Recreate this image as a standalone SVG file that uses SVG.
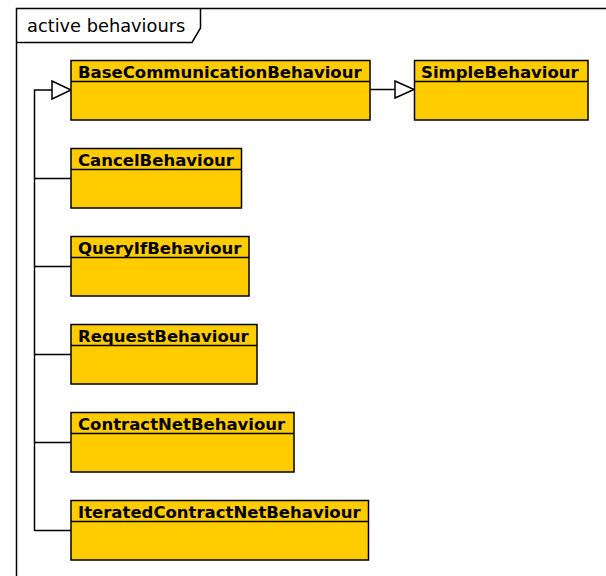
<svg xmlns="http://www.w3.org/2000/svg" width="606" height="576" viewBox="0 0 606 576">
<style>
.box{fill:#FFCC00;stroke:#000;stroke-width:1.5}
.div{stroke:#000;stroke-width:1.5}
.nm{font-family:"DejaVu Sans",sans-serif;font-weight:bold;font-size:16.5px;fill:#000}
.ln{fill:none;stroke:#000;stroke-width:1.5}
.tri{fill:#fff;stroke:#000;stroke-width:1.5}
</style>
<rect width="606" height="576" fill="#fff"/>
<g id="frame">
<path d="M16.5,580 L16.5,8.5 L610,8.5" fill="none" stroke="#000" stroke-width="1.5"/>
<path d="M16.5,42.5 L192,42.5 L200.5,28 L200.5,8.5" fill="none" stroke="#000" stroke-width="1.5"/>
<text x="27" y="32" font-family="DejaVu Sans,sans-serif" font-size="17.8" fill="#000">active behaviours</text>
</g>
<g id="connectors">
<path class="ln" d="M34.5,531 L34.5,90 L52,90"/>
<polygon class="tri" points="52,81 71,90 52,99"/>
<path class="ln" d="M370,89.5 L395,89.5"/>
<polygon class="tri" points="395,81 414,89.5 395,98"/>
<path class="ln" d="M34.5,178.5 L71,178.5"/>
<path class="ln" d="M34.5,266.5 L71,266.5"/>
<path class="ln" d="M34.5,354.5 L71,354.5"/>
<path class="ln" d="M34.5,442.5 L71,442.5"/>
<path class="ln" d="M34.5,530.5 L71,530.5"/>
</g>
<g id="BaseCommunicationBehaviour">
<rect class="box" x="71" y="60.5" width="299" height="59.5"/>
<line class="div" x1="71" y1="81.5" x2="370" y2="81.5"/>
<text class="nm" x="78" y="77.5">BaseCommunicationBehaviour</text>
</g>
<g id="SimpleBehaviour">
<rect class="box" x="414.5" y="60.5" width="173.5" height="59.5"/>
<line class="div" x1="414.5" y1="81.5" x2="588" y2="81.5"/>
<text class="nm" x="421" y="77.5">SimpleBehaviour</text>
</g>
<g id="CancelBehaviour">
<rect class="box" x="71" y="148.5" width="170.5" height="59.5"/>
<line class="div" x1="71" y1="169.5" x2="241.5" y2="169.5"/>
<text class="nm" x="78" y="165.5">CancelBehaviour</text>
</g>
<g id="QueryIfBehaviour">
<rect class="box" x="71" y="236.5" width="178" height="59.5"/>
<line class="div" x1="71" y1="257.5" x2="249" y2="257.5"/>
<text class="nm" x="78" y="253.5">QueryIfBehaviour</text>
</g>
<g id="RequestBehaviour">
<rect class="box" x="71" y="324.5" width="186" height="59.5"/>
<line class="div" x1="71" y1="345.5" x2="257" y2="345.5"/>
<text class="nm" x="78" y="341.5">RequestBehaviour</text>
</g>
<g id="ContractNetBehaviour">
<rect class="box" x="71" y="412.5" width="223" height="59.5"/>
<line class="div" x1="71" y1="433.5" x2="294" y2="433.5"/>
<text class="nm" x="78" y="429.5">ContractNetBehaviour</text>
</g>
<g id="IteratedContractNetBehaviour">
<rect class="box" x="71" y="500.5" width="297.5" height="59.5"/>
<line class="div" x1="71" y1="521.5" x2="368.5" y2="521.5"/>
<text class="nm" x="78" y="517.5">IteratedContractNetBehaviour</text>
</g>
</svg>
